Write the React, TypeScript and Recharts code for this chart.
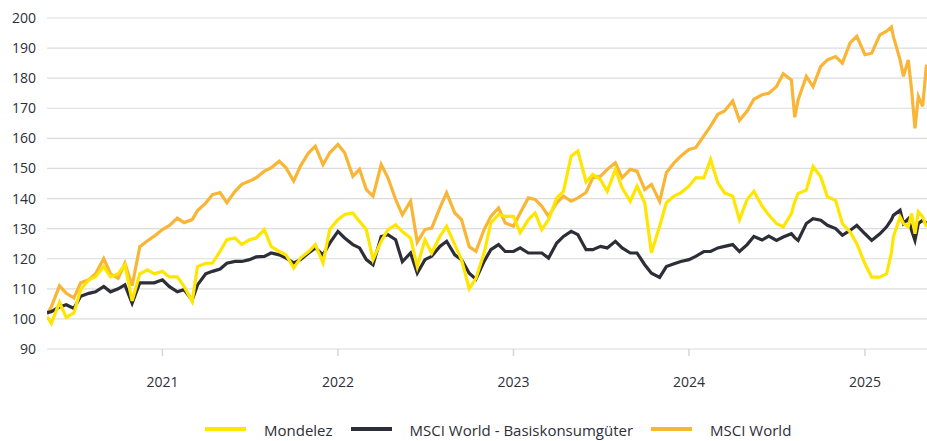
import React from "react";
import { LineChart, Line, XAxis, YAxis, CartesianGrid, Legend } from "recharts";

const dates: string[] = [
  "2020-05-06", "2020-05-15", "2020-06-01", "2020-06-15", "2020-07-01", "2020-07-15",
  "2020-08-01", "2020-08-15", "2020-09-01", "2020-09-15", "2020-10-01", "2020-10-15",
  "2020-10-30", "2020-11-15", "2020-12-01", "2020-12-15", "2021-01-01", "2021-01-15",
  "2021-02-01", "2021-02-15", "2021-03-04", "2021-03-15", "2021-04-01", "2021-04-15",
  "2021-05-01", "2021-05-15", "2021-06-01", "2021-06-15", "2021-07-01", "2021-07-15",
  "2021-08-01", "2021-08-15", "2021-09-01", "2021-09-15", "2021-10-01", "2021-10-15",
  "2021-11-01", "2021-11-15", "2021-12-01", "2021-12-15", "2022-01-01", "2022-01-15",
  "2022-02-01", "2022-02-15", "2022-03-01", "2022-03-15", "2022-04-01", "2022-04-15",
  "2022-05-01", "2022-05-15", "2022-06-01", "2022-06-15", "2022-07-01", "2022-07-15",
  "2022-08-01", "2022-08-15", "2022-09-01", "2022-09-15", "2022-10-01", "2022-10-15",
  "2022-11-01", "2022-11-15", "2022-12-01", "2022-12-15", "2023-01-01", "2023-01-15",
  "2023-02-01", "2023-02-15", "2023-03-01", "2023-03-15", "2023-04-01", "2023-04-15",
  "2023-05-01", "2023-05-15", "2023-06-01", "2023-06-15", "2023-07-01", "2023-07-15",
  "2023-08-01", "2023-08-15", "2023-09-01", "2023-09-15", "2023-10-01", "2023-10-15",
  "2023-11-01", "2023-11-15", "2023-12-01", "2023-12-15", "2024-01-01", "2024-01-15",
  "2024-02-01", "2024-02-15", "2024-03-01", "2024-03-15", "2024-04-01", "2024-04-15",
  "2024-05-01", "2024-05-15", "2024-06-01", "2024-06-15", "2024-07-01", "2024-07-15",
  "2024-08-01", "2024-08-08", "2024-08-15", "2024-09-01", "2024-09-15", "2024-10-01",
  "2024-10-15", "2024-11-01", "2024-11-15", "2024-12-01", "2024-12-15", "2025-01-01",
  "2025-01-15", "2025-02-01", "2025-02-15", "2025-02-25", "2025-03-01", "2025-03-15",
  "2025-03-22", "2025-04-01", "2025-04-08", "2025-04-15", "2025-04-22", "2025-05-01",
  "2025-05-09",
];

const mondelez: number[] = [
  100.8, 98.5, 105.5, 100.5, 102, 109.7, 113, 114, 117.4, 114, 115, 118,
  106, 115, 116.3, 115, 115.8, 114, 114, 110.8, 105.8, 117.4, 118.5, 118.5,
  122.5, 126.3, 126.9, 124.7, 126.3, 126.9, 129.7, 124.1, 122.4, 121.3, 116.9, 120.2,
  122.4, 124.7, 118.6, 129.7, 133, 134.7, 135.2, 132.4, 129.7, 119.7, 125.8, 129.7,
  131.3, 129, 126.9, 117.4, 126.3, 121.9, 127.4, 130.8, 124.7, 119.7, 110, 113.5,
  121.9, 131.9, 134.7, 134.1, 134.1, 128.6, 133, 135.2, 129.7, 133, 140.2, 142.4,
  154.1, 155.8, 145.5, 148, 146.3, 142.4, 149.7, 143.6, 139.1, 144.1, 138.6, 122,
  130.8, 138.6, 140.8, 141.9, 144.1, 146.9, 146.9, 153, 145.2, 141.9, 140.8, 133,
  139.7, 142.4, 137.5, 134.5, 131.7, 130.6, 135, 139, 141.7, 142.8, 150.6, 147.2,
  140.6, 139.4, 131.7, 128.9, 125, 118.3, 113.9, 113.9, 115, 122, 127.2, 133.9,
  131.7, 130.6, 135, 128.3, 135.6, 133.9, 130.6,
];

const msciStaples: number[] = [
  102.1, 102.4, 104, 104.7, 103.5, 107.5, 108.5, 109, 110.8, 109, 110, 111.3,
  105.2, 112, 112, 112, 113, 110.8, 109, 109.7, 106.3, 111.3, 115, 115.8,
  116.6, 118.5, 119.1, 119.1, 119.7, 120.6, 120.8, 121.9, 121.3, 120.2, 118.6, 119.7,
  121.9, 123.6, 121.3, 125.2, 129.1, 126.9, 124.7, 123.6, 119.7, 118, 127.4, 128,
  126.3, 119, 121.9, 115.2, 119.7, 120.8, 124.1, 125.8, 121.3, 119.7, 115.2, 113.2,
  119.1, 123, 124.7, 122.4, 122.4, 123.6, 121.9, 121.9, 121.9, 120.2, 125.2, 127.4,
  129.1, 128, 123, 123, 124.1, 123.6, 125.8, 123.6, 121.9, 121.9, 118, 115.2,
  113.8, 117.4, 118.3, 119.1, 119.7, 120.8, 122.4, 122.4, 123.6, 124.1, 124.7, 122.4,
  124.7, 127.4, 126.2, 127.5, 126.1, 127.2, 128.3, 127, 126.1, 131.7, 133.3, 132.8,
  131.1, 130, 127.8, 129.4, 131.1, 128.3, 126.1, 128.3, 130.6, 133, 134.4, 136.1,
  131.7, 133.3, 129.4, 126.1, 131.7, 132.8, 131.7,
];

const msciWorld: number[] = [
  101.5, 104, 111, 108.5, 107, 112, 113, 115, 120, 115, 113.5, 118.5,
  111, 124, 126, 127.5, 129.7, 131, 133.5, 132, 133, 136, 138.5, 141.3,
  142, 138.6, 142.4, 144.7, 145.8, 146.9, 149.1, 150.2, 152.4, 150.2, 145.8, 150.8,
  155.2, 157.4, 151.3, 155.2, 158, 155.2, 147.4, 149.7, 143, 140.8, 151.3, 146.9,
  139.7, 134.6, 139.1, 125.5, 129.7, 130.2, 136.9, 141.9, 135.2, 133, 124, 122.5,
  129.7, 134.1, 136.9, 131.9, 130.8, 135.2, 140.2, 139.7, 137.4, 134.1, 138.6, 140.8,
  139.1, 140.2, 142, 146.9, 147.4, 149.7, 151.9, 146.9, 149.7, 149.1, 143, 144.7,
  139, 148.6, 151.9, 154.1, 156.3, 156.9, 160.8, 164.1, 168, 169.1, 172.4, 166,
  169.1, 173, 174.5, 175, 177.2, 181.5, 179.4, 167, 172.8, 180.6, 177.2, 183.9,
  186.1, 187.2, 185, 191.7, 193.9, 187.8, 188.3, 194.4, 195.6, 197, 193.9, 186.1,
  180.6, 186.1, 176.1, 163.3, 173.9, 170.6, 184.5,
];

const yTicks: number[] = [90, 100, 110, 120, 130, 140, 150, 160, 170, 180, 190, 200];
const xTickDates: string[] = ["2021-01-01", "2022-01-01", "2023-01-01", "2024-01-01", "2025-01-01"];
const domainDates: string[] = ["2020-05-06", "2025-05-10"];

const seriesNames = {
  mondelez: "Mondelez",
  staples: "MSCI World - Basiskonsumgüter",
  world: "MSCI World",
};

const COLORS = {
  mondelez: "#FFE600",
  staples: "#2E2E38",
  world: "#F9B535",
};

const ts = (d: string) => Date.parse(d + "T00:00:00Z");

const data = dates.map((d, i) => ({
  t: ts(d),
  mondelez: mondelez[i],
  staples: msciStaples[i],
  world: msciWorld[i],
}));

const legendOrder: Array<keyof typeof seriesNames> = ["mondelez", "staples", "world"];

const FONT = "'Open Sans', 'Noto Sans', sans-serif";

const renderLegend = () => (
  <div
    style={{
      display: "flex",
      alignItems: "center",
      paddingLeft: 205,
      fontFamily: FONT,
      fontSize: 15,
      lineHeight: "19px",
      color: "#2E2E38",
      whiteSpace: "nowrap",
    }}
  >
    {legendOrder.map((k) => (
      <div key={k} style={{ display: "flex", alignItems: "center", marginRight: 18 }}>
        <div style={{ width: 41, height: 3.5, background: COLORS[k], marginRight: 18, marginTop: -3 }} />
        <span>{seriesNames[k]}</span>
      </div>
    ))}
  </div>
);

export default function App() {
  return (
    <div style={{ position: "absolute", left: 0, top: 0, width: 927, height: 441, background: "#fff", overflow: "hidden" }}>
      <LineChart
        width={927}
        height={441}
        data={data}
        margin={{ top: 18, right: 0, bottom: 62, left: 0 }}
      >
        <CartesianGrid vertical={false} stroke="#dcdcdc" strokeWidth={1.2} />
        <XAxis
          dataKey="t"
          type="number"
          scale="time"
          domain={[ts(domainDates[0]), ts(domainDates[1])]}
          ticks={xTickDates.map(ts)}
          tickFormatter={(v: number) => String(new Date(v).getUTCFullYear())}
          axisLine={false}
          tickLine={{ stroke: "#d6d6d6", strokeWidth: 1.5 }}
          tickSize={7}
          tickMargin={21}
          height={30}
          tick={{ fill: "#2E2E38", fontSize: 14, fontFamily: FONT }}
          allowDataOverflow
        />
        <YAxis
          domain={[90, 200]}
          ticks={yTicks}
          axisLine={false}
          tickLine={false}
          tickSize={0}
          tickMargin={11}
          width={47}
          interval={0}
          tick={{ fill: "#2E2E38", fontSize: 14, fontFamily: FONT }}
        />
        <Legend
          layout="vertical"
          verticalAlign="middle"
          align="center"
          wrapperStyle={{ left: 0, top: 421, width: 927 }}
          content={renderLegend}
        />
        <Line
          dataKey="world"
          name={seriesNames.world}
          stroke={COLORS.world}
          strokeWidth={3.2}
          dot={false}
          type="linear"
          isAnimationActive={false}
        />
        <Line
          dataKey="staples"
          name={seriesNames.staples}
          stroke={COLORS.staples}
          strokeWidth={3.2}
          dot={false}
          type="linear"
          isAnimationActive={false}
        />
        <Line
          dataKey="mondelez"
          name={seriesNames.mondelez}
          stroke={COLORS.mondelez}
          strokeWidth={3.2}
          dot={false}
          type="linear"
          isAnimationActive={false}
        />
      </LineChart>
    </div>
  );
}
